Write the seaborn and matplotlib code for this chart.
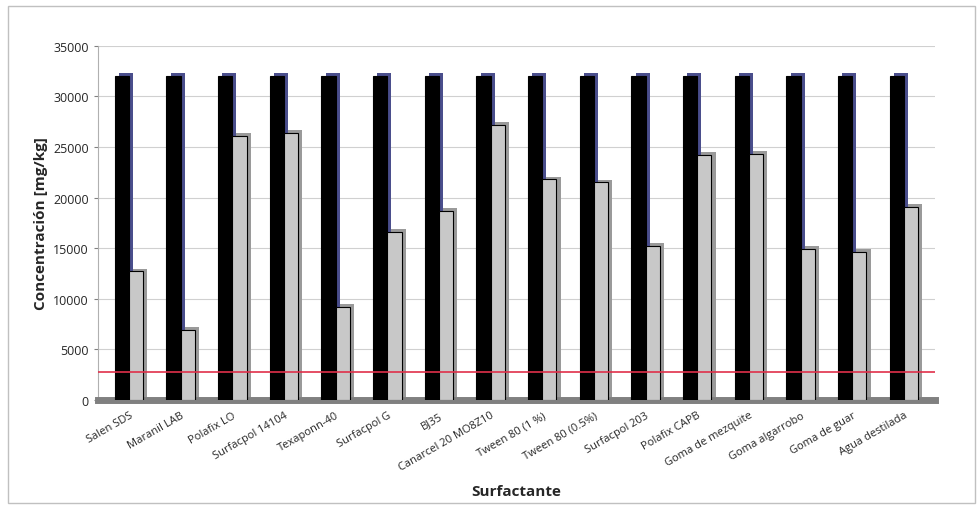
import pandas as pd
import matplotlib.pyplot as plt
import matplotlib.patheffects as pe
import seaborn as sns
from matplotlib.patches import Rectangle

# Surfactants tested and concentrations
surfactantes = ["Salen SDS", "Maranil LAB", "Polafix LO", "Surfacpol 14104", "Texaponn-40",
                "Surfacpol G", "BJ35", "Canarcel 20 MO8Z10", "Tween 80 (1 %)", "Tween 80 (0.5%)",
                "Surfacpol 203", "Polafix CAPB", "Goma de mezquite", "Goma algarrobo",
                "Goma de guar", "Agua destilada"]
inicial = [32000] * 16
final = [12700, 6900, 26100, 26400, 9200, 16600, 18700, 27200,
         21800, 21500, 15200, 24200, 24300, 14900, 14600, 19100]
limite = 2800

df = pd.DataFrame({
    "Surfactante": surfactantes * 2,
    "Concentracion": inicial + final,
    "Serie": ["Inicial"] * len(surfactantes) + ["Final"] * len(surfactantes),
})

sns.set_style("white")
plt.rcParams["font.family"] = ["Open Sans", "DejaVu Sans"]

fig = plt.figure(figsize=(9.8, 5.1), dpi=100)
ax = fig.add_axes([0.1, 0.214, 0.854, 0.694])

ax = sns.barplot(data=df, x="Surfactante", y="Concentracion", hue="Serie",
                 palette=["black", "#c8c8c8"], edgecolor="black", linewidth=0.8,
                 width=0.55, gap=0, legend=False, ax=ax, zorder=3)

# fake the 3D side faces with an offset shadow
n = len(surfactantes)
for i, bar in enumerate(ax.patches):
    side = "#4a4e8c" if i < n else "#9a9a9a"
    bar.set_path_effects([pe.SimplePatchShadow(offset=(3, 2), shadow_rgbFace=side, alpha=1),
                          pe.Normal()])

ax.axhline(limite, color="#e0304a", lw=1.2, zorder=4)

ax.set_ylim(0, 35000)
ax.set_xlim(-0.6, n - 0.4)
ax.set_yticks(range(0, 35001, 5000))
ax.yaxis.grid(True, color="#d0d0d0", lw=0.8)
ax.set_axisbelow(True)
for s in ["top", "right"]:
    ax.spines[s].set_visible(False)
ax.spines["left"].set_color("#b0b0b0")
ax.spines["bottom"].set_color("#808080")
ax.spines["bottom"].set_linewidth(5)

ax.tick_params(axis="y", labelsize=9, length=3, color="#808080", left=True)
ax.tick_params(axis="x", labelsize=8, length=0, pad=7)
ax.set_xticklabels(surfactantes, rotation=30, ha="right", rotation_mode="anchor")

ax.set_ylabel("Concentración [mg/kg]", fontsize=11, fontweight="bold")
ax.set_xlabel("Surfactante", fontsize=11, fontweight="bold", labelpad=8)

fig.patches.append(Rectangle((0.008, 0.012), 0.987, 0.975, transform=fig.transFigure,
                             fill=False, edgecolor="#c0c0c0", lw=1))

plt.savefig("out.png", dpi=100)
